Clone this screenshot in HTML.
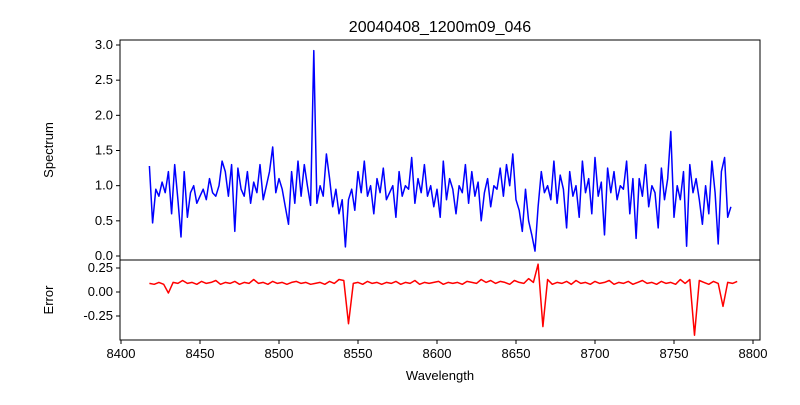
<!DOCTYPE html>
<html><head><meta charset="utf-8"><style>
body{margin:0;background:#fff}
svg text{font-family:"Liberation Sans",sans-serif;fill:#000}
</style></head><body>
<svg id="c" width="800" height="400" xmlns="http://www.w3.org/2000/svg"></svg>
<script>
const specVals=[1.28,0.47,0.95,0.85,1.05,0.9,1.2,0.6,1.3,0.8,0.27,1.2,0.55,0.9,1.0,0.75,0.85,
0.95,0.8,1.1,0.9,0.85,1.0,1.35,1.2,0.85,1.3,0.35,1.25,0.95,0.85,1.2,0.75,1.05,0.9,1.3,0.8,1.0,1.2,1.55,0.9,1.1,
0.95,0.7,0.45,1.2,0.75,1.35,0.85,1.3,1.0,0.72,2.92,0.75,1.0,0.85,1.45,1.1,0.7,0.95,0.6,0.8,0.13,0.8,
0.95,0.65,1.2,0.9,1.35,0.85,1.0,0.6,1.1,0.9,1.25,0.8,0.9,1.0,0.55,1.2,0.85,1.0,0.95,1.4,0.75,1.1,0.9,1.3,0.85,1.0,0.7,0.95,
0.55,1.35,0.8,1.1,0.95,0.6,1.0,0.9,1.3,0.75,1.2,0.85,1.05,0.5,0.9,1.1,0.7,1.0,0.95,1.25,0.85,1.3,1.0,1.45,0.8,
0.65,0.35,0.95,0.5,0.3,0.07,0.7,1.2,0.9,
1.0,0.8,1.35,0.75,1.15,0.95,0.4,1.2,0.85,1.0,0.55,1.35,0.9,1.1,0.6,1.4,0.85,1.05,0.3,1.25,0.9,1.2,0.8,1.0,0.95,1.35,0.6,1.1,0.25,1.1,0.85,1.3,0.7,1.0,0.9,0.4,1.25,0.8,1.1,1.77,0.55,
1.0,0.8,1.2,0.14,1.3,0.9,1.1,0.8,0.45,1.0,0.6,1.35,0.9,0.17,1.2,1.4,0.55,0.7];
const errVals=[0.09,0.08,0.1,0.08,-0.01,0.1,0.09,0.12,0.09,0.1,0.08,0.11,0.09,0.1,0.12,0.08,0.1,0.09,0.11,0.08,0.1,0.09,0.13,0.09,0.1,0.08,0.11,0.09,0.1,0.08,0.1,0.11,0.09,0.1,0.08,0.09,0.1,0.08,0.11,0.09,0.13,0.12,-0.33,
0.09,0.1,0.08,0.11,0.09,0.1,0.08,0.1,0.09,0.11,0.08,0.1,0.09,0.12,0.08,0.1,0.09,0.1,0.11,0.08,0.1,0.09,0.1,0.08,0.11,0.1,0.09,0.13,0.1,0.12,0.09,0.11,0.1,0.08,0.12,0.1,0.09,0.14,0.1,
0.29,-0.36,0.13,0.08,0.1,0.09,0.11,0.08,0.12,0.09,0.1,0.08,0.11,0.09,0.1,0.12,0.08,0.1,0.09,0.11,0.08,0.1,0.12,0.09,0.1,0.08,0.11,0.09,0.1,0.08,0.13,0.09,0.13,-0.45,0.12,0.1,0.08,0.11,0.09,-0.15,0.1,0.09,0.11];
const xTicks=[8400,8450,8500,8550,8600,8650,8700,8750,8800];
const specTicks=[0.0,0.5,1.0,1.5,2.0,2.5,3.0];
const errTicks=[-0.25,0.00,0.25];
const specStart=8418,specStep=2,errStart=8418,errStep=3;

const NS="http://www.w3.org/2000/svg",svg=document.getElementById('c');
function el(t,a,txt){const e=document.createElementNS(NS,t);for(const k in a)e.setAttribute(k,a[k]);if(txt!=null)e.textContent=txt;svg.appendChild(e);return e;}
const L=120,R=760,T1=40,B1=260,T2=260,B2=340;
const xs=v=>121+(v-8400)*(753-121)/400;
const ys=v=>256-v*(256-45)/3;
const ye=v=>292-v*(292-268)/0.25;
function pts(vals,yf,s0,st){return vals.map((v,i)=>xs(s0+i*st).toFixed(1)+','+yf(v).toFixed(1)).join(' ');}
let p=el('polyline',{points:pts(specVals,ys,specStart,specStep),fill:'none',stroke:'#0000ff','stroke-width':1.5,'stroke-linejoin':'round'});


p=el('polyline',{points:pts(errVals,ye,errStart,errStep),fill:'none',stroke:'#ff0000','stroke-width':1.5,'stroke-linejoin':'round'});


let f=el('rect',{x:L,y:T1,width:R-L,height:B1-T1,fill:'none',stroke:'#000','stroke-width':1});


f=el('rect',{x:L,y:T2,width:R-L,height:B2-T2,fill:'none',stroke:'#000','stroke-width':1});


specTicks.forEach(v=>{const y=ys(v);el('line',{x1:L-4,x2:L,y1:y,y2:y,stroke:'#000'});
 const t=el('text',{x:L-7,y:y+4,'text-anchor':'end','font-size':13},v.toFixed(1));
 
 });
errTicks.forEach(v=>{const y=ye(v);el('line',{x1:L-4,x2:L,y1:y,y2:y,stroke:'#000'});
 const t=el('text',{x:L-7,y:y+4,'text-anchor':'end','font-size':13},v.toFixed(2));
 
 });
xTicks.forEach(v=>{const x=xs(v);el('line',{x1:x,x2:x,y1:B2,y2:B2+4,stroke:'#000'});
 const t=el('text',{x:x,y:B2+18,'text-anchor':'middle','font-size':13},v);
 
 });
let t=el('text',{x:440,y:32,'text-anchor':'middle','font-size':16},'20040408_1200m09_046');


t=el('text',{x:440,y:380,'text-anchor':'middle','font-size':13},'Wavelength');


t=el('text',{x:53,y:150,'text-anchor':'middle','font-size':13,transform:'rotate(-90 53 150)'},'Spectrum');


t=el('text',{x:53,y:300,'text-anchor':'middle','font-size':13,transform:'rotate(-90 53 300)'},'Error');


</script>
</body></html>
